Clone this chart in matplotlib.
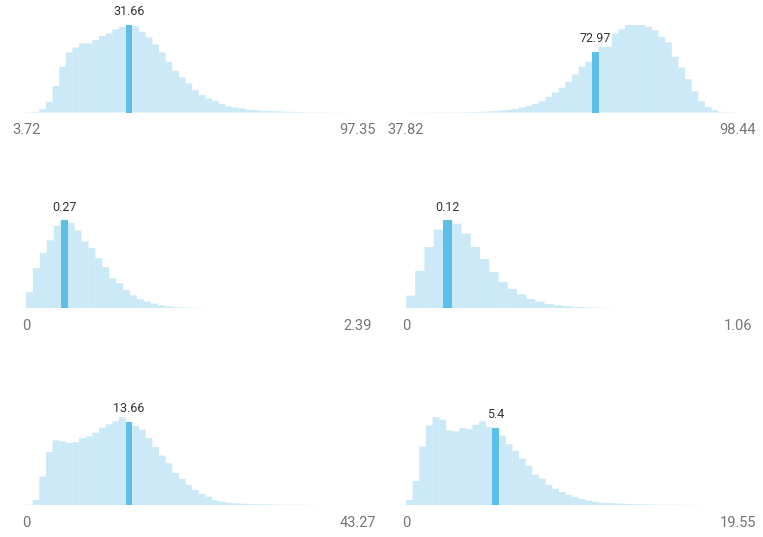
import numpy as np
import matplotlib
matplotlib.use("Agg")
import matplotlib.pyplot as plt

plt.rcParams['font.family'] = ['Roboto', 'DejaVu Sans']

# ------- dane: liczności w przedziałach -------
counts_1 = [1, 2, 10, 32, 80, 137, 180, 195, 207, 207, 217, 230, 237, 249, 257,
            264, 259, 242, 225, 204, 180, 152, 125, 105, 87, 67, 52, 42, 35, 25,
            18, 15, 12, 8, 7, 5, 4, 4, 3, 2, 2, 1.5, 1, 1, 0.7, 0.5, 0.4, 0.3, 0.3, 0.2]
counts_2 = [0.3, 0.3, 0.4, 0.5, 0.5, 0.6, 0.8, 1, 1, 1.5, 1.5, 2, 3, 4, 6,
            8, 11, 15, 20, 25, 34, 47, 60, 74, 92, 114, 137, 152, 182, 197,
            197, 237, 250, 264, 264, 264, 257, 247, 227, 210, 167, 135, 100, 64, 34,
            16, 7, 2, 1, 0.5]
counts_3 = [48, 120, 165, 203, 247, 263, 255, 233, 200, 180, 150, 123, 90, 75, 55,
            39, 27, 20, 14, 9, 6, 4, 3, 2, 1.5, 1.2, 1, 0.8, 0.6, 0.5,
            0.4, 0.35, 0.3, 0.25, 0.2, 0.2, 0.15, 0.15, 0.1, 0.1, 0.1, 0.3, 0.1, 0.1, 0.1,
            0.1, 0.1, 0.3]
counts_4 = [38, 112, 183, 235, 263, 253, 223, 183, 147, 108, 78, 58, 42, 28, 20,
            13, 9, 6, 4, 3, 2, 1.5, 1.2, 1, 0.8, 0.6, 0.5, 0.4, 0.3, 0.3,
            0.2, 0.2, 0.15, 0.1, 0.1, 0.1]
counts_5 = [1, 15, 85, 158, 193, 190, 186, 188, 200, 205, 216, 231, 241, 250, 263,
            248, 236, 225, 200, 173, 148, 125, 96, 78, 60, 45, 33, 25, 14, 10,
            7, 5, 4, 3, 2.5, 2, 1.5, 1.2, 1, 0.8, 0.6, 0.5, 0.4, 0.3, 0.2,
            0.2, 0.2, 0.2, 0.2, 0.2]
counts_6 = [15, 71, 173, 236, 261, 253, 221, 218, 228, 225, 238, 248, 231, 228, 206,
            180, 161, 138, 116, 90, 78, 60, 48, 38, 30, 23, 18, 13, 10, 7,
            6, 5, 4, 3, 2.5, 2, 1.5, 1.2, 1, 0.8, 0.6, 0.5, 0.4, 0.3, 0.2,
            0.2, 0.2, 0.2, 0.2, 0.2]

mins = [3.72, 37.82, 0, 0, 0, 0]
maxs = [97.35, 98.44, 2.39, 1.06, 43.27, 19.55]
marked = [31.66, 72.97, 0.27, 0.12, 13.66, 5.4]
marked_bin = [15, 28, 5, 4, 15, 13]
all_counts = [counts_1, counts_2, counts_3, counts_4, counts_5, counts_6]

light = '#cbe9f6'
dark = '#5bbfe8'

W, H = 763, 537
fig = plt.figure(figsize=(W / 100, H / 100), dpi=100)

lefts = [26, 406]
baselines = [112.5, 308.3, 505]
ax_w, ax_h = 332, 88


def fmt(v):
    return f"{v:g}"


for i, counts in enumerate(all_counts):
    row, col = divmod(i, 2)
    x0 = lefts[col]
    y0 = H - baselines[row]
    ax = fig.add_axes([x0 / W, y0 / H, ax_w / W, ax_h / H])
    counts = np.array(counts, dtype=float)
    edges = np.linspace(mins[i], maxs[i], len(counts) + 1)
    bw = edges[1] - edges[0]
    k = marked_bin[i]
    # jasne słupki lekko zachodzą na siebie, żeby nie było białych szczelin
    bars = ax.bar(edges[:-1], counts, width=bw * 1.03, align='edge', color=light,
                  linewidth=0)
    for b in bars:
        b.set_snap(False)
    ax.bar(edges[k], counts[k], width=bw, align='edge', color=dark, linewidth=0,
           zorder=3)
    ax.set_xlim(mins[i], maxs[i])
    ax.set_ylim(0, counts.max())
    ax.axis('off')

    ax.annotate(fmt(marked[i]), (edges[k] + bw / 2, counts[k]),
                xytext=(0, 9.5), textcoords='offset points',
                ha='center', va='center', fontsize=9, color='#333333')
    for v in (mins[i], maxs[i]):
        ax.annotate(fmt(v), (v, 0), xytext=(0, -12.8), textcoords='offset points',
                    ha='center', va='center', fontsize=10.5, color='#757575',
                    annotation_clip=False)

fig.savefig('out.png', dpi=100)
